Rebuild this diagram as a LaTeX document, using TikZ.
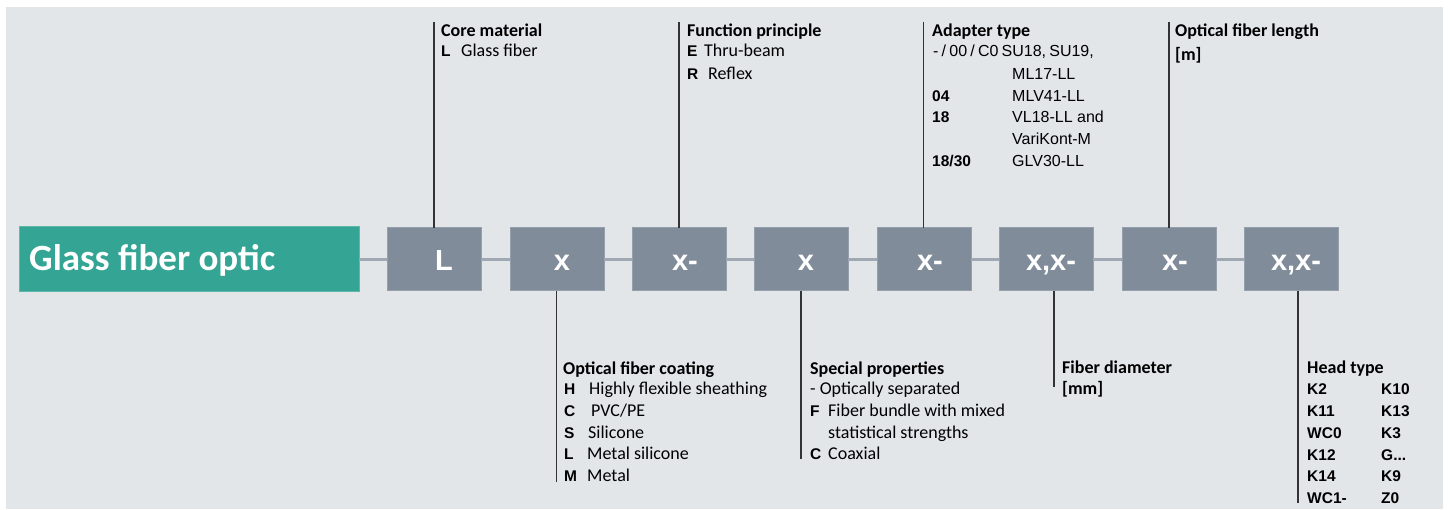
\documentclass[tikz,border=0pt]{standalone}
\usepackage{fontspec}
\setmainfont{Carlito}
\newfontfamily\arial{Liberation Sans}
\definecolor{bgc}{HTML}{E2E6E9}
\definecolor{tealc}{HTML}{34A594}
\definecolor{tealb}{HTML}{5DB8AA}
\definecolor{boxc}{HTML}{818C9A}
\definecolor{boxb}{HTML}{96A0AC}
\definecolor{linkc}{HTML}{A0A9B3}
\definecolor{leadc}{HTML}{333333}
\tikzset{
  titlebox/.style={fill=tealc, draw=tealb, line width=1pt, minimum width=340pt, minimum height=65pt, inner sep=0pt, outer sep=0pt, anchor=north west},
  codebox/.style={fill=boxc, draw=boxb, line width=1pt, minimum width=94pt, minimum height=63pt, inner sep=0pt, outer sep=0pt, anchor=north west},
  boxlabel/.style={text=white, font=\arial\bfseries\fontsize{29}{29}\selectfont, inner sep=0pt, anchor=base},
  titlelabel/.style={text=white, font=\bfseries\fontsize{37}{37}\selectfont, inner sep=0pt, anchor=base west},
  link/.style={draw=linkc, line width=3.5pt},
  leader/.style={draw=leadc, line width=1.3pt},
  head/.style={font=\bfseries\fontsize{18}{21}\selectfont, inner sep=0pt, anchor=base west},
  txt/.style={font=\fontsize{18}{21}\selectfont, inner sep=0pt, anchor=base west},
  code/.style={font=\arial\bfseries\fontsize{15.5}{18}\selectfont, inner sep=0pt, anchor=base west},
  val/.style={font=\arial\fontsize{16}{18}\selectfont, inner sep=0pt, anchor=base west},
}
\begin{document}
\begin{tikzpicture}[x=1pt,y=-1pt]
\useasboundingbox (0,0) rectangle (1451,510);
\fill[white] (0,0) rectangle (1451,510);
\fill[bgc] (6,7) rectangle (1443,509);

% boxes
\node[titlebox] (t0) at (19,227) {};
\node[codebox] (b1) at (387,228) {};
\node[codebox] (b2) at (510,228) {};
\node[codebox] (b3) at (632,228) {};
\node[codebox] (b4) at (754,228) {};
\node[codebox] (b5) at (877,228) {};
\node[codebox] (b6) at (999,228) {};
\node[codebox] (b7) at (1122,228) {};
\node[codebox] (b8) at (1244,228) {};

% connectors
\draw[link] (t0.east) -- (b1.west);
\draw[link] (b1.east) -- (b2.west);
\draw[link] (b2.east) -- (b3.west);
\draw[link] (b3.east) -- (b4.west);
\draw[link] (b4.east) -- (b5.west);
\draw[link] (b5.east) -- (b6.west);
\draw[link] (b6.east) -- (b7.west);
\draw[link] (b7.east) -- (b8.west);

% labels in boxes
\node[titlelabel] (l0) at (29,271) {Glass fiber optic};
\node[boxlabel] (l1) at ([xshift=10pt]b1.center |- 0,270.5) {L};
\node[boxlabel] (l2) at ([xshift=5pt]b2.center |- 0,270.5) {x};
\node[boxlabel] (l3) at ([xshift=6pt]b3.center |- 0,270.5) {x-};
\node[boxlabel] (l4) at ([xshift=5pt]b4.center |- 0,270.5) {x};
\node[boxlabel] (l5) at ([xshift=6pt]b5.center |- 0,270.5) {x-};
\node[boxlabel] (l6) at ([xshift=5pt]b6.center |- 0,270.5) {x,x-};
\node[boxlabel] (l7) at ([xshift=6pt]b7.center |- 0,270.5) {x-};
\node[boxlabel] (l8) at ([xshift=5pt]b8.center |- 0,270.5) {x,x-};

% leader end points
\coordinate (u1) at (434,22);
\coordinate (u3) at (679,22);
\coordinate (u5) at (923.5,22);
\coordinate (u7) at (1169,22);
\coordinate (d2) at (556.5,482);
\coordinate (d4) at (801,459);
\coordinate (d6) at (1054,387);
\coordinate (d8) at (1298,503);

\draw[leader] (u1) -- (u1 |- b1.north);
\draw[leader] (u3) -- (u3 |- b3.north);
\draw[leader] (u5) -- (u5 |- b5.north);
\draw[leader] (u7) -- (u7 |- b7.north);
\draw[leader] (d2 |- b2.south) -- (d2);
\draw[leader] (d4 |- b4.south) -- (d4);
\draw[leader] (d6 |- b6.south) -- (d6);
\draw[leader] (d8 |- b8.south) -- (d8);

% Core material
\node[head] (h1) at (441,36.5) {Core material};
\node[code] (c1a) at (441,57) {L};
\node[txt] (x1a) at (461,57) {Glass fiber};

% Function principle
\node[head] (h3) at (687,36.5) {Function principle};
\node[code] (c3a) at (687,57) {E};
\node[txt] (x3a) at (704,57) {Thru-beam};
\node[code] (c3b) at (687,80) {R};
\node[txt] (x3b) at (708,80) {Reflex};

% Adapter type
\node[head] (h5) at (932,36.5) {Adapter type};
\node[val] (v5a) at (933,57) {\spaceskip=3.2pt - / 00 / C0 SU18, SU19,};
\node[val] (v5b) at (1012,79.5) {ML17-LL};
\node[code] (c5c) at (932,101.5) {04};
\node[val] (v5c) at (1012,101.5) {MLV41-LL};
\node[code] (c5d) at (932,123) {18};
\node[val] (v5d) at (1012,123) {VL18-LL and};
\node[val] (v5e) at (1012,145) {VariKont-M};
\node[code] (c5f) at (932,166.5) {18/30};
\node[val] (v5f) at (1012,166.5) {GLV30-LL};

% Optical fiber length
\node[head] (h7) at (1175,36.5) {Optical fiber length};
\node[head] (x7a) at (1175,61) {[m]};

% Optical fiber coating
\node[head] (h2) at (563,374) {Optical fiber coating};
\node[code] (c2a) at (564,395) {H};
\node[txt] (x2a) at (589,395) {Highly flexible sheathing};
\node[code] (c2b) at (564,416.5) {C};
\node[txt] (x2b) at (591,416.5) {PVC/PE};
\node[code] (c2c) at (564,438) {S};
\node[txt] (x2c) at (588,438) {Silicone};
\node[code] (c2d) at (564,459.5) {L};
\node[txt] (x2d) at (587,459.5) {Metal silicone};
\node[code] (c2e) at (564,481) {M};
\node[txt] (x2e) at (587,481) {Metal};

% Special properties
\node[head] (h4) at (810,374) {Special properties};
\node[txt] (x4a) at (810,395) {- Optically separated};
\node[code] (c4b) at (810,416.5) {F};
\node[txt] (x4b) at (828,416.5) {Fiber bundle with mixed};
\node[txt] (x4c) at (828,438) {statistical strengths};
\node[code] (c4d) at (810,459.5) {C};
\node[txt] (x4d) at (828,459.5) {Coaxial};

% Fiber diameter
\node[head] (h6) at (1062,373.5) {Fiber diameter};
\node[head] (x6a) at (1062,395) {[mm]};

% Head type
\node[head] (h8) at (1307,373.5) {Head type};
\node[code] (k1) at (1307,394.5) {K2};
\node[code] (k2) at (1381,394.5) {K10};
\node[code] (k3) at (1307,416.5) {K11};
\node[code] (k4) at (1381,416.5) {K13};
\node[code] (k5) at (1307,438) {WC0};
\node[code] (k6) at (1381,438) {K3};
\node[code] (k7) at (1307,460) {K12};
\node[code] (k8) at (1381,460) {G...};
\node[code] (k9) at (1307,481.5) {K14};
\node[code] (k10) at (1381,481.5) {K9};
\node[code] (k11) at (1307,503) {WC1-};
\node[code] (k12) at (1381,503) {Z0};
\end{tikzpicture}
\end{document}
